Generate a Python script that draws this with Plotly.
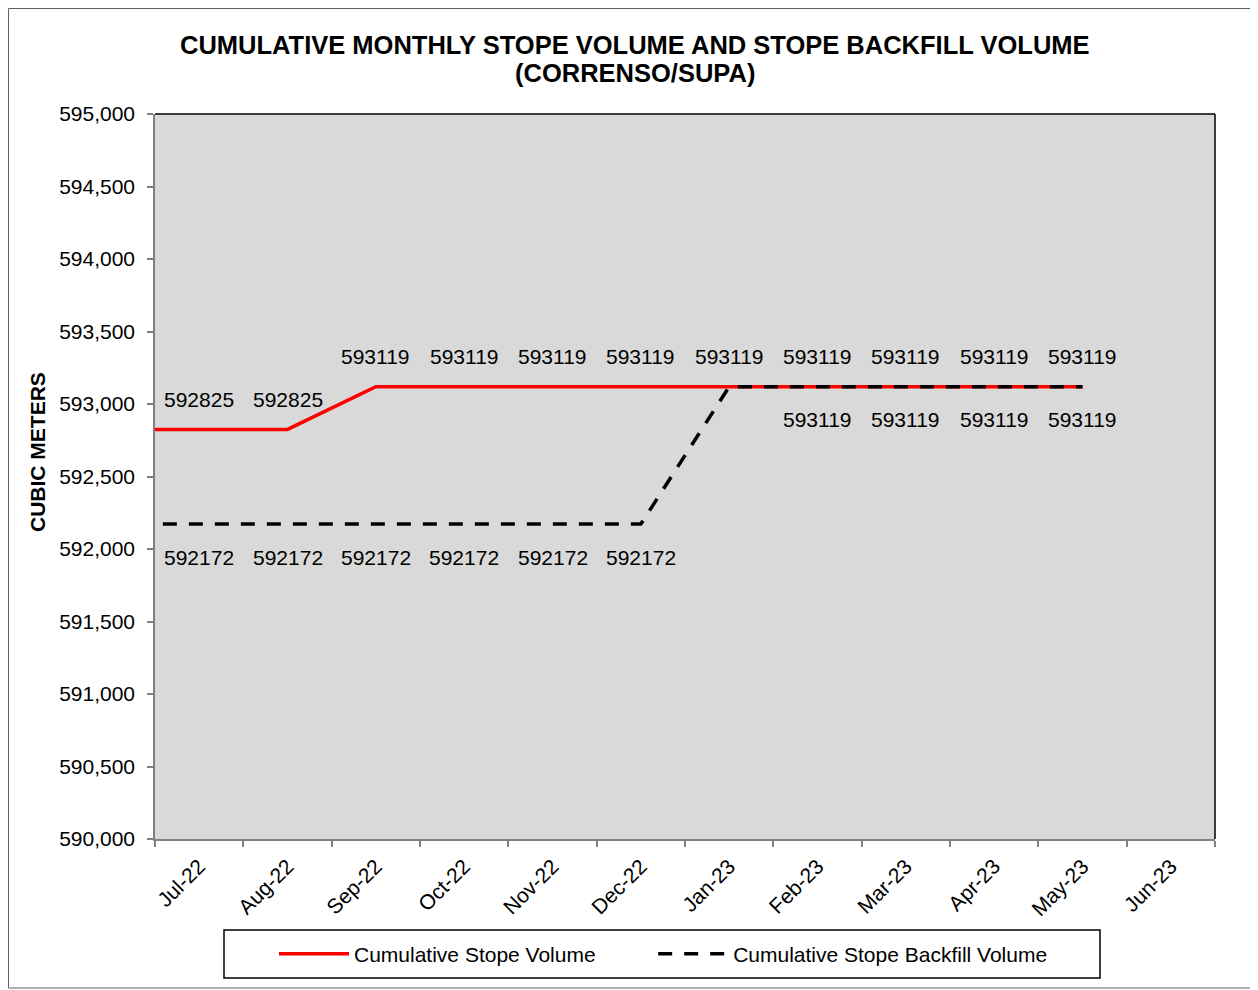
import plotly.graph_objects as go

# Periods: first entry is the prior month (line runs in from the left edge, off-scale)
months = ["Jun-22", "Jul-22", "Aug-22", "Sep-22", "Oct-22", "Nov-22", "Dec-22",
          "Jan-23", "Feb-23", "Mar-23", "Apr-23", "May-23", "Jun-23"]
stope_volume = [592825, 592825, 592825, 593119, 593119, 593119, 593119,
                593119, 593119, 593119, 593119, 593119, None]
backfill_volume = [592172, 592172, 592172, 592172, 592172, 592172, 592172,
                   593119, 593119, 593119, 593119, 593119, None]
# which values carry a data label (prior month hidden, Jan-23 backfill hidden)
stope_labelled = [False] + [True] * 11 + [False]
backfill_labelled = [False] + [True] * 6 + [False] + [True] * 4 + [False]

y_ticks = list(range(590000, 595001, 500))

xs = list(range(len(months)))
FONT = "Liberation Sans, Arial, sans-serif"
FS = 21

# plot area in figure pixels
L, R, T, B = 147, 1207, 106, 831
W, H = 1258, 990
PW, PH = R - L, B - T


def px(x):
    return (x - L) / PW


def py(y):
    return (B - y) / PH


fig = go.Figure()
fig.add_trace(go.Scatter(x=xs, y=stope_volume, mode="lines",
                         name="Cumulative Stope Volume" + "&nbsp;" * 9,
                         line=dict(color="#FF0000", width=3.5), connectgaps=False))
fig.add_trace(go.Scatter(x=xs, y=backfill_volume, mode="lines", name="Cumulative Stope Backfill Volume",
                         line=dict(color="#000000", width=3.5, dash="14px,12px"), connectgaps=False))

annotations = []
for i, (v, lab) in enumerate(zip(stope_volume, stope_labelled)):
    if lab and v is not None:
        annotations.append(dict(x=xs[i], y=v, text=str(v), showarrow=False, yshift=30,
                                font=dict(size=FS, color="black", family=FONT)))
for i, (v, lab) in enumerate(zip(backfill_volume, backfill_labelled)):
    if lab and v is not None:
        annotations.append(dict(x=xs[i], y=v, text=str(v), showarrow=False, yshift=-33,
                                font=dict(size=FS, color="black", family=FONT)))

# title lines
annotations.append(dict(xref="paper", yref="paper", x=px(627), y=py(37), showarrow=False,
                        text="<b>CUMULATIVE MONTHLY STOPE VOLUME AND STOPE BACKFILL VOLUME</b>",
                        font=dict(size=25.5, family=FONT, color="black"),
                        xanchor="center", yanchor="middle"))
annotations.append(dict(xref="paper", yref="paper", x=px(627), y=py(65), showarrow=False,
                        text="<b>(CORRENSO/SUPA)</b>",
                        font=dict(size=25.5, family=FONT, color="black"),
                        xanchor="center", yanchor="middle"))
# y-axis title
annotations.append(dict(xref="paper", yref="paper", x=px(30), y=py(444), showarrow=False,
                        text="<b>CUBIC METERS</b>", textangle=-90,
                        font=dict(size=FS, family=FONT, color="black"),
                        xanchor="center", yanchor="middle"))

fig.update_layout(
    width=W, height=H,
    margin=dict(l=L, r=W - R, t=T, b=H - B),
    paper_bgcolor="white", plot_bgcolor="#D9D9D9",
    font=dict(family=FONT, size=FS, color="black"),
    showlegend=True,
    legend=dict(orientation="h", x=px(266), xanchor="left", y=py(946), yanchor="middle",
                borderwidth=0, bgcolor="rgba(0,0,0,0)",
                font=dict(size=FS, family=FONT), itemwidth=70),
    annotations=annotations,
)

fig.update_xaxes(
    range=[0.5, 12.5], tickvals=xs[1:], ticktext=months[1:], tickangle=-45,
    ticks="", showgrid=False, zeroline=False, ticklabelstandoff=5,
    showline=True, linecolor="#808080", linewidth=1.5, mirror=False,
    tickfont=dict(size=FS, family=FONT),
    minor=dict(tickmode="linear", tick0=0.5, dtick=1, ticks="outside", ticklen=6,
               tickcolor="#808080", tickwidth=1.5, showgrid=False),
)
fig.update_yaxes(
    range=[590000, 595000], tickvals=y_ticks, tickformat=",", ticks="outside", ticklen=6,
    tickcolor="#808080", tickwidth=1.5, showgrid=False, zeroline=False,
    showline=True, linecolor="#808080", linewidth=1.5, ticklabelstandoff=8,
    tickfont=dict(size=FS, family=FONT),
)

# black top/right frame of plot area
fig.add_shape(type="line", xref="paper", yref="paper", x0=0, x1=1, y0=1, y1=1,
              line=dict(color="black", width=1.5))
fig.add_shape(type="line", xref="paper", yref="paper", x0=1, x1=1, y0=0, y1=1,
              line=dict(color="black", width=1.5))
# legend box
fig.add_shape(type="rect", xref="paper", yref="paper",
              x0=px(216), x1=px(1092), y0=py(970), y1=py(922),
              line=dict(color="black", width=1.5))
# outer chart border
fig.add_shape(type="rect", xref="paper", yref="paper",
              x0=px(0.5), x1=px(1249), y0=py(980), y1=py(0.5),
              line=dict(color="#606060", width=1))

fig.write_html("out.html")
